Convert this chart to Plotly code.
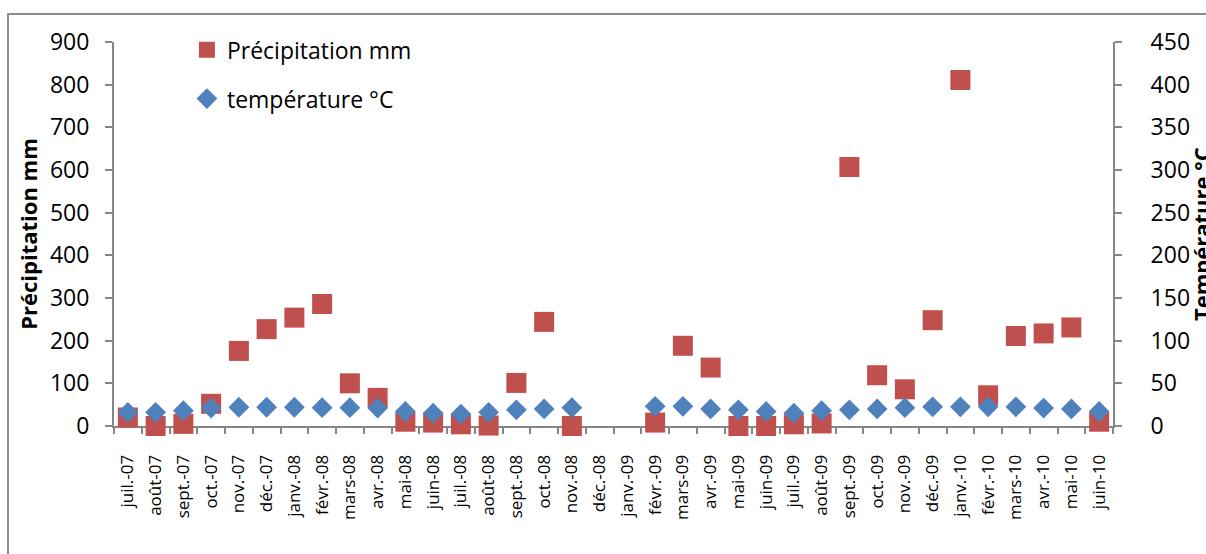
import plotly.graph_objects as go

months = ["juil.-07", "août-07", "sept.-07", "oct.-07", "nov.-07", "déc.-07",
          "janv.-08", "févr.-08", "mars-08", "avr.-08", "mai-08", "juin-08",
          "juil.-08", "août-08", "sept.-08", "oct.-08", "nov.-08", "déc.-08",
          "janv.-09", "févr.-09", "mars-09", "avr.-09", "mai-09", "juin-09",
          "juil.-09", "août-09", "sept.-09", "oct.-09", "nov.-09", "déc.-09",
          "janv.-10", "févr.-10", "mars-10", "avr.-10", "mai-10", "juin-10"]

precip_mm = [20, 0, 5, 52, 176, 227, 254, 286, 100, 66, 10, 8,
             4, 1, 101, 244, 0, None, None, 8, 188, 137, 0, 0,
             4, 6, 607, 119, 86, 248, 811, 72, 211, 217, 231, 10]

temp_c = [16, 16, 18, 21, 22, 22, 22, 21.5, 21.5, 21, 17, 15,
          14, 16, 19, 20, 21.5, None, None, 23, 23, 20, 19, 17,
          15, 18, 19, 20, 21.5, 22.5, 22.5, 22.5, 22.5, 21, 20, 17]

FONT = "Open Sans"
AX = "#868686"

fig = go.Figure()
fig.add_trace(go.Scatter(
    x=months, y=precip_mm, mode="markers", name="Précipitation mm",
    marker=dict(symbol="square", size=20, color="#C0504D",
                line=dict(color="#C0504D", width=0)),
    cliponaxis=False, legendgroup="a", yaxis="y"))
fig.add_trace(go.Scatter(
    x=months, y=temp_c, mode="markers", name="température °C",
    marker=dict(symbol="diamond", size=16, color="#4F81BD",
                line=dict(color="#4F81BD", width=0)),
    cliponaxis=False, legendgroup="b", yaxis="y2"))

fig.update_layout(
    width=1206, height=554,
    margin=dict(l=114, r=93, t=42, b=128, autoexpand=False),
    paper_bgcolor="white", plot_bgcolor="white",
    font=dict(family=FONT, color="black", size=23),
    showlegend=True,
    legend=dict(x=0.073, y=1.036, xanchor="left", yanchor="top",
                bgcolor="rgba(0,0,0,0)", font=dict(size=23, family=FONT),
                traceorder="grouped", tracegroupgap=16),
    xaxis=dict(type="category", categoryorder="array", categoryarray=months,
               range=[-0.5, len(months) - 0.5], automargin=False,
               tickangle=-90, tickfont=dict(size=17, family=FONT),
               showline=True, linecolor=AX, linewidth=2,
               ticks="outside", ticklen=6, tickcolor=AX, tickwidth=2,
               tickson="boundaries", showgrid=False, zeroline=False,
               ticklabelstandoff=20, layer="below traces"),
    yaxis=dict(range=[0, 900], dtick=100, tickfont=dict(size=23, family=FONT),
               automargin=False,
               showline=True, linecolor=AX, linewidth=2,
               ticks="outside", ticklen=7, tickcolor=AX, tickwidth=2,
               showgrid=False, zeroline=False, ticklabelstandoff=11,
               layer="below traces",
               title=dict(text="<b>Précipitation mm</b>",
                          font=dict(size=22, family=FONT), standoff=6)),
    yaxis2=dict(range=[0, 450], dtick=50, overlaying="y", side="right",
                tickfont=dict(size=23, family=FONT), automargin=False,
                showline=True, linecolor=AX, linewidth=2,
                ticks="outside", ticklen=7, tickcolor=AX, tickwidth=2,
                showgrid=False, zeroline=False, ticklabelstandoff=24,
                layer="below traces"),
    annotations=[dict(text="<b>Température °C</b>", textangle=-90,
                      xref="paper", yref="paper", x=(1201 - 114) / 999, y=0.5,
                      xanchor="center", yanchor="middle", showarrow=False,
                      font=dict(size=22, family=FONT, color="black"))],
    shapes=[dict(type="rect", xref="paper", yref="paper",
                 x0=(8 - 114) / 999, x1=(1215 - 114) / 999,
                 y0=(426 - 570) / 384, y1=(426 - 14) / 384,
                 line=dict(color="#8c8c8c", width=2), fillcolor="rgba(0,0,0,0)",
                 layer="below")],
)

fig.write_html("out.html")
